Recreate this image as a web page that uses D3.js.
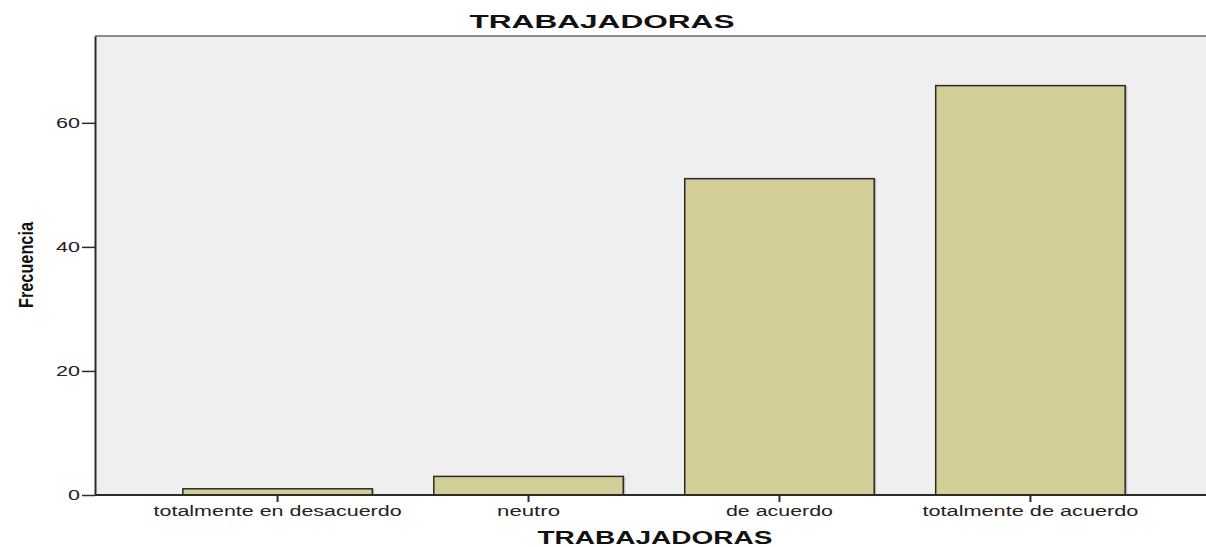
<!DOCTYPE html>
<html>
<head>
<meta charset="utf-8">
<script src="https://cdn.jsdelivr.net/npm/d3@7"></script>
<style>
  body { margin: 0; background: #fff; }
  text { font-family: "Liberation Sans", Arial, sans-serif; }
</style>
</head>
<body>
<script>
/* Data */

var categories = ["totalmente en desacuerdo", "neutro", "de acuerdo", "totalmente de acuerdo"];
var frecuencias = [1, 3, 51, 66];
var yTicks = [0, 20, 40, 60];

// label widths (text is drawn wide)
var catLabelWidths = [248, 63, 107, 216];

/* Canvas */

var width = 1206;
var height = 547;

var svg = d3.select("body").append("svg")
	.attr("width", width)
	.attr("height", height);

var plot = {left: 95, right: 1213, top: 36, bottom: 495};

var x = d3.scaleBand()
	.domain(categories)
	.range([plot.left, plot.right])
	.paddingInner(0.245)
	.paddingOuter(0.35);

var y = d3.scaleLinear()
	.domain([0, 74])
	.range([plot.bottom, plot.top]);

// plot background
svg.append("rect")
	.attr("x", plot.left)
	.attr("y", plot.top)
	.attr("width", width - plot.left)
	.attr("height", plot.bottom - plot.top)
	.attr("fill", "#efefef");

// top frame line
svg.append("line")
	.attr("x1", plot.left).attr("x2", width)
	.attr("y1", plot.top).attr("y2", plot.top)
	.attr("stroke", "#8a8a8a")
	.attr("stroke-width", 2);

// bars (with a soft shadow on the right)
svg.append("g")
	.selectAll("rect")
	.data(frecuencias)
	.enter().append("rect")
		.attr("x", function(d, i) { return x(categories[i]) + 2; })
		.attr("y", function(d) { return y(d); })
		.attr("width", x.bandwidth())
		.attr("height", function(d) { return y(0) - y(d); })
		.attr("fill", "#9a9a8a")
		.attr("opacity", 0.6);

svg.append("g")
	.selectAll("rect")
	.data(frecuencias)
	.enter().append("rect")
		.attr("x", function(d, i) { return x(categories[i]); })
		.attr("y", function(d) { return y(d); })
		.attr("width", x.bandwidth())
		.attr("height", function(d) { return y(0) - y(d); })
		.attr("fill", "#d3ce98")
		.attr("stroke", "#2b2b2b")
		.attr("stroke-width", 1.5);

// y axis
var yAxis = svg.append("g")
	.attr("transform", "translate(" + plot.left + ",0)")
	.call(d3.axisLeft(y).tickValues(yTicks).tickSize(13).tickPadding(2).tickSizeOuter(0));

yAxis.select(".domain").attr("stroke", "#2b2b2b").attr("stroke-width", 2);
yAxis.selectAll(".tick line").attr("stroke", "#2b2b2b").attr("stroke-width", 1.5);
yAxis.selectAll(".tick text")
	.attr("font-size", 14)
	.attr("fill", "#222")
	.attr("textLength", function(d) { return String(d).length * 12; })
	.attr("lengthAdjust", "spacingAndGlyphs")
	.attr("x", -15)
	.attr("text-anchor", "end")
	.attr("dy", "0.35em");

// x axis
var xAxis = svg.append("g")
	.attr("transform", "translate(0," + plot.bottom + ")")
	.call(d3.axisBottom(x).tickSize(7).tickPadding(5).tickSizeOuter(0));

xAxis.select(".domain")
	.attr("d", "M" + plot.left + ",0H" + width)
	.attr("stroke", "#2b2b2b").attr("stroke-width", 2);
xAxis.selectAll(".tick line").attr("stroke", "#2b2b2b").attr("stroke-width", 2);
xAxis.selectAll(".tick text")
	.attr("font-size", 14)
	.attr("fill", "#222")
	.attr("y", 21)
	.attr("dy", 0)
	.attr("textLength", function(d, i) { return catLabelWidths[i]; })
	.attr("lengthAdjust", "spacingAndGlyphs");

// titles
svg.append("text")
	.attr("x", 602)
	.attr("y", 28)
	.attr("text-anchor", "middle")
	.attr("font-size", 18)
	.attr("font-weight", "bold")
	.attr("fill", "#111")
	.attr("textLength", 265)
	.attr("lengthAdjust", "spacingAndGlyphs")
	.text("TRABAJADORAS");

svg.append("text")
	.attr("x", 655)
	.attr("y", 544)
	.attr("text-anchor", "middle")
	.attr("font-size", 18)
	.attr("font-weight", "bold")
	.attr("fill", "#111")
	.attr("textLength", 235)
	.attr("lengthAdjust", "spacingAndGlyphs")
	.text("TRABAJADORAS");

svg.append("text")
	.attr("transform", "translate(33,265) rotate(-90)")
	.attr("text-anchor", "middle")
	.attr("font-size", 21)
	.attr("font-weight", "bold")
	.attr("fill", "#111")
	.attr("textLength", 86)
	.attr("lengthAdjust", "spacingAndGlyphs")
	.text("Frecuencia");
</script>
</body>
</html>
